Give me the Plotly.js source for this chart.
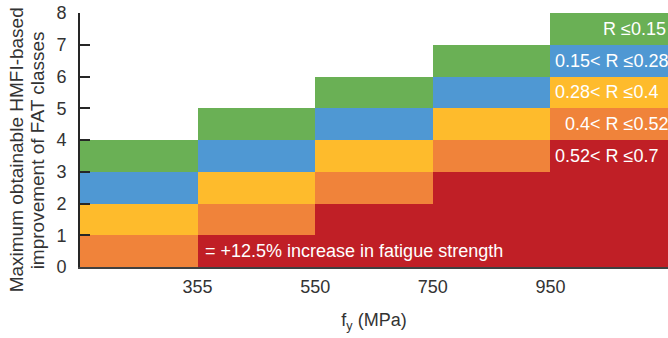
<!DOCTYPE html>
<html>
<head>
<meta charset="utf-8">
<script src="https://cdn.plot.ly/plotly-3.0.1.min.js"></script>
<style>html,body{margin:0;padding:0;background:#fff;}#chart{width:668px;height:338px;}</style>
</head>
<body>
<div id="chart"></div>
<script>
// Yield-strength classes (bins) and their boundary tick labels
var categories = ['<355', '355-550', '550-750', '750-950', '>950'];
var boundaryLabels = ['355', '550', '750', '950'];

// Stress-ratio series (bottom to top), FAT class improvement per bin
var seriesNames = ['0.52< R \u22640.7', '0.4< R \u22640.52', '0.28< R \u22640.4', '0.15< R \u22640.28', 'R \u22640.15'];
var red    = [0, 1, 2, 3, 4];
var orange = [1, 1, 1, 1, 1];
var yellow = [1, 1, 1, 1, 1];
var blue   = [1, 1, 1, 1, 1];
var green  = [1, 1, 1, 1, 1];
var noteText = '= +12.5% increase in fatigue strength';
var yTitleLines = ['Maximum obtainable HMFI-based', 'improvement of FAT classes'];
var xTitle = 'f<sub>y</sub> (MPa)';

var seriesValues = [red, orange, yellow, blue, green];
var colors = ['#C01F26', '#F0833A', '#FEBB2C', '#4F98D3', '#6AB055'];

var xIdx = categories.map(function (c, i) { return i; });
var FONT = 'Liberation Sans, Arial, sans-serif';

var traces = seriesValues.map(function (vals, k) {
  return {
    type: 'bar',
    name: seriesNames[k],
    x: xIdx,
    y: vals,
    customdata: categories,
    marker: { color: colors[k], line: { width: 0 } },
    hoverinfo: 'name+y'
  };
});

// Label positions: middle of each segment of the last bin
var last = categories.length - 1;
var cum = 0;
var labelX = [3.52, 3.61, 3.52, 3.52, 4.5];
var labelAnchor = ['left', 'left', 'left', 'left', 'right'];
var annotations = [];
seriesValues.forEach(function (vals, k) {
  var v = vals[last];
  annotations.push({
    x: labelX[k], y: cum + v - 0.5, xref: 'x', yref: 'y',
    text: seriesNames[k], showarrow: false, xanchor: labelAnchor[k],
    font: { family: FONT, size: 18, color: '#ffffff' }
  });
  cum += v;
});
annotations.push({
  x: 0.55, y: 0.5, xref: 'x', yref: 'y', text: noteText, showarrow: false,
  xanchor: 'left', font: { family: FONT, size: 18, color: '#ffffff' }
});
// y-axis title as two rotated lines
var yTitleX = [-0.1085, -0.0728];
yTitleLines.forEach(function (t, i) {
  annotations.push({
    x: yTitleX[i], y: 0.46, xref: 'paper', yref: 'paper', text: t, showarrow: false,
    textangle: -90, xanchor: 'center', yanchor: 'middle',
    font: { family: FONT, size: 19, color: '#333333' }
  });
});

var layout = {
  width: 668, height: 338,
  margin: { l: 80, r: 0, t: 13, b: 71, pad: 0 },
  paper_bgcolor: '#ffffff', plot_bgcolor: '#ffffff',
  barmode: 'stack', bargap: 0, showlegend: false,
  font: { family: FONT, size: 18, color: '#333333' },
  xaxis: {
    range: [-0.5, 4.5], tickmode: 'array',
    tickvals: boundaryLabels.map(function (t, i) { return i + 0.5; }),
    ticktext: boundaryLabels, ticks: '', showgrid: false, zeroline: false,
    showline: true, linecolor: '#404040', linewidth: 2,
    tickfont: { family: FONT, size: 18, color: '#333333' },
    ticklabelstandoff: 2,
    title: { text: xTitle, font: { family: FONT, size: 18, color: '#333333' }, standoff: 18 }
  },
  yaxis: {
    range: [0, 8], dtick: 1, ticks: 'inside', ticklen: 10, tickwidth: 2, tickcolor: '#262626',
    showgrid: false, zeroline: false, showline: true, linecolor: '#262626', linewidth: 2,
    tickfont: { family: FONT, size: 18, color: '#333333' },
    ticklabelstandoff: 8
  },
  annotations: annotations
};

Plotly.newPlot('chart', traces, layout, { displayModeBar: false, staticPlot: true });
</script>
</body>
</html>
